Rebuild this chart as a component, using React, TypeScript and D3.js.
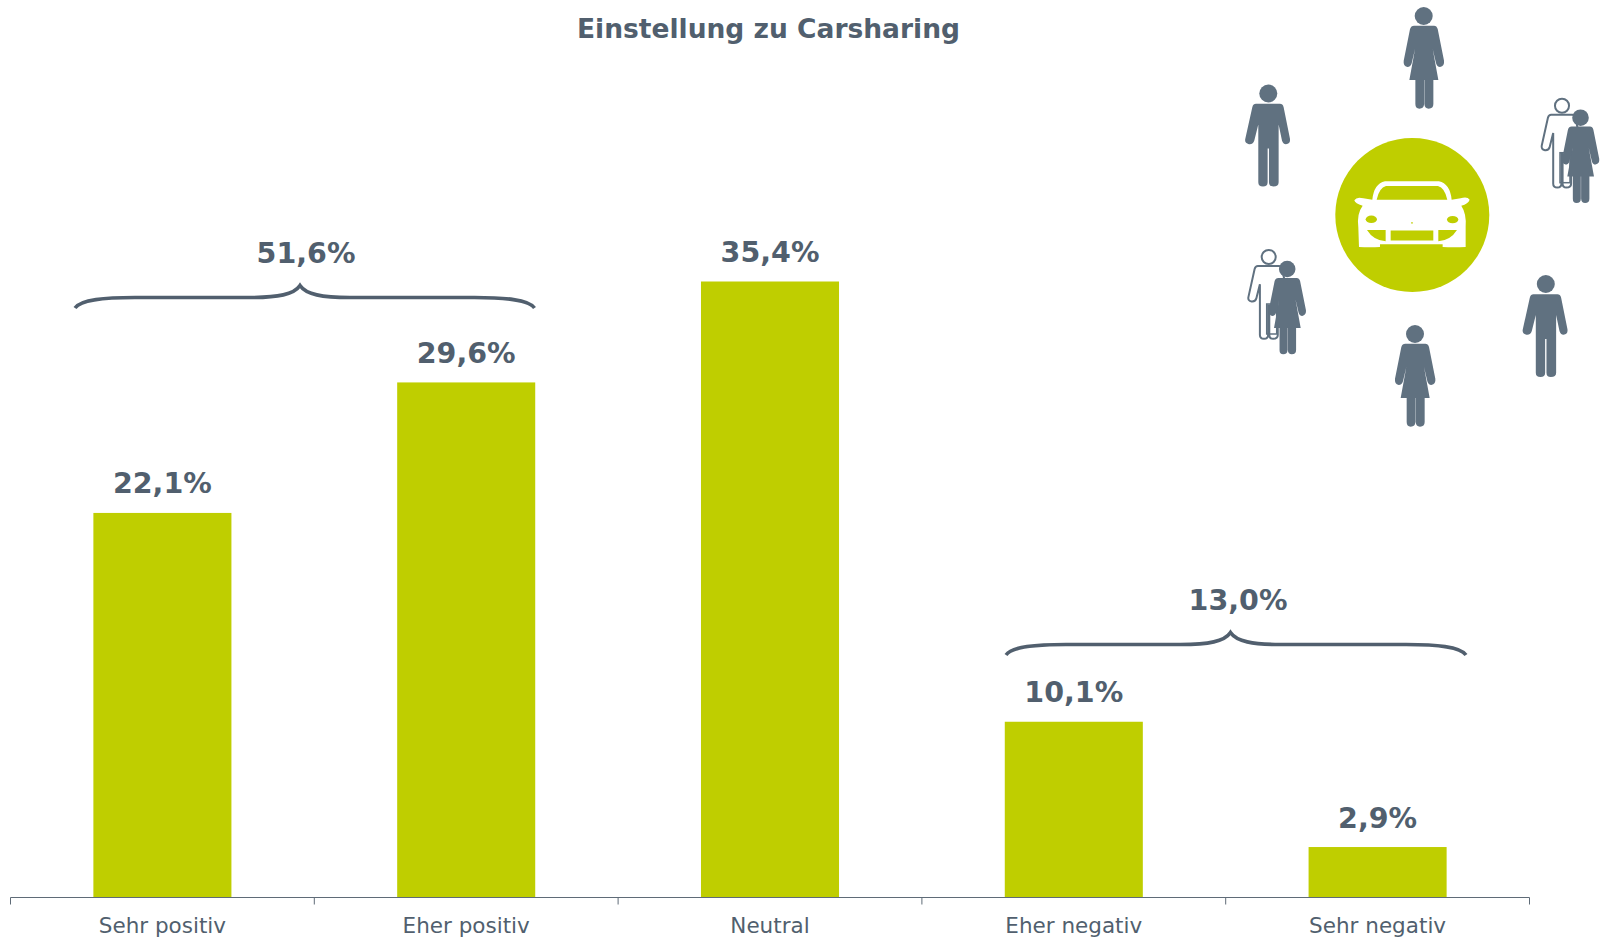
import React from "react";
import * as d3 from "d3";

const categories = ["Sehr positiv", "Eher positiv", "Neutral", "Eher negativ", "Sehr negativ"];
const values = [22.1, 29.6, 35.4, 10.1, 2.9];
const groupLabels = [51.6, 13.0];
const title = "Einstellung zu Carsharing";

const W = 1608, H = 938;
const axisY = 897.5, axisL = 10.5, axisR = 1529.5;
const TEXT = "#515f6e", ICON = "#607180", GREEN = "#bfce00", AXIS = "#5f6b77";
const FONT = "'DejaVu Sans', Verdana, sans-serif";

const x = d3.scaleBand<string>().domain(categories).range([axisL, axisR]).paddingInner(0.5456).paddingOuter(0.2728);
const y = d3.scaleLinear().domain([0, 35.4]).range([axisY, 281.5]);
const fmt = (v: number) => v.toFixed(1).replace(".", ",") + "%";

const MAN = "M108 310H180Q188 310 191 320L210 415Q212 430 198 431Q189 431 186 420L176 372V545Q176 558 160 558Q147 558 147 545V444H143V545Q143 558 129 558Q115 558 115 545V372L103 420Q100 432 87 431Q73 428 76 415L97 320Q100 310 108 310Z";
const WOMAN = "M582 75H642Q650 75 653 85L672 180Q674 196 660 199Q651 199 648 188L638 145L655 238H640V310Q640 324 626 324Q614 324 613 310V238H612V310Q612 324 598 324Q586 324 586 310V238H568L585 145L575 188Q572 199 562 199Q549 196 551 180L570 85Q573 75 582 75Z";
const CAR = "M428 226Q405 220 403 210Q410 198 430 204L457 208Q462 160 495 153H657Q690 160 695 208L722 204Q742 198 749 208Q745 220 724 226Q740 250 737 290V350Q700 352 668 350V342H480V350Q450 352 417 350L415 290Q410 250 428 226Z";
const CAR_HOLES = "M470 208Q478 172 498 167H654Q674 172 682 208ZM441 299H497V333Q460 330 441 299ZM711 299H655V333Q692 330 711 299ZM512 301H640V331H512Z";

function Man({ hx, hy, k = 1, outline = false }: { hx: number; hy: number; k?: number; outline?: boolean }) {
  const s = k / 3;
  const style = outline
    ? { fill: "#fff", stroke: ICON, strokeWidth: 6 / k }
    : { fill: ICON };
  return (
    <g transform={`translate(${hx},${hy}) scale(${s}) translate(-145,-279)`} {...style}>
      <path d={MAN} />
      <circle cx={145} cy={279} r={outline ? 24 : 27} />
    </g>
  );
}

function Woman({ hx, hy, k = 1 }: { hx: number; hy: number; k?: number }) {
  return (
    <g transform={`translate(${hx},${hy}) scale(${k / 3}) translate(-611,-46)`} fill={ICON}>
      <path d={WOMAN} />
      <circle cx={611} cy={46} r={27} />
    </g>
  );
}

function Couple({ hx, hy }: { hx: number; hy: number }) {
  return (
    <g>
      <Man hx={hx} hy={hy} k={0.88} outline />
      <rect x={hx - 2} y={hy + 47} width={10} height={30} fill="none" stroke={ICON} strokeWidth={1.5} />
      <Woman hx={hx + 18.5} hy={hy + 12} k={0.92} />
    </g>
  );
}

function Brace({ x0, x1, tip, yLine }: { x0: number; x1: number; tip: number; yLine: number }) {
  const d = d3.path();
  d.moveTo(x0, yLine + 10.5);
  d.bezierCurveTo(x0 + 6, yLine + 2, x0 + 30, yLine, x0 + 60, yLine);
  d.lineTo(tip - 50, yLine);
  d.bezierCurveTo(tip - 22, yLine, tip - 6, yLine - 3, tip, yLine - 12);
  d.bezierCurveTo(tip + 6, yLine - 3, tip + 22, yLine, tip + 50, yLine);
  d.lineTo(x1 - 60, yLine);
  d.bezierCurveTo(x1 - 30, yLine, x1 - 6, yLine + 2, x1, yLine + 10.5);
  return <path d={d.toString()} fill="none" stroke={TEXT} strokeWidth={3.6} />;
}

const braces = [
  { x0: 75, x1: 534.5, tip: 300, yLine: 297.5, labelX: 306, labelY: 262.5 },
  { x0: 1006, x1: 1466, tip: 1230.5, yLine: 644.5, labelX: 1238, labelY: 609.5 },
];

export default function App() {
  const bw = x.bandwidth();
  const ticks = [...categories.map((c) => (x(c) as number) - x.step() * x.paddingOuter()), axisR];
  return (
    <svg width={W} height={H} viewBox={`0 0 ${W} ${H}`} style={{ position: "absolute", left: 0, top: 0, display: "block" }} fontFamily={FONT}>
      <rect width={W} height={H} fill="#fff" />
      <text x={768.5} y={38} textAnchor="middle" fontSize={26.5} fontWeight={700} fill={TEXT}>{title}</text>

      {categories.map((c, i) => (
        <g key={c}>
          <rect x={x(c)} y={y(values[i])} width={bw} height={axisY - y(values[i])} fill={GREEN} />
          <text x={(x(c) as number) + bw / 2} y={y(values[i]) - 19.5} textAnchor="middle" fontSize={28.5} fontWeight={700} fill={TEXT}>
            {fmt(values[i])}
          </text>
          <text x={(x(c) as number) + bw / 2} y={932.5} textAnchor="middle" fontSize={21.5} fill={TEXT}>{c}</text>
        </g>
      ))}

      <line x1={axisL} x2={axisR} y1={axisY} y2={axisY} stroke={AXIS} strokeWidth={1} />
      {ticks.map((t, i) => (
        <line key={i} x1={t} x2={t} y1={axisY} y2={axisY + 7} stroke={AXIS} strokeWidth={1} />
      ))}

      {braces.map((b, i) => (
        <g key={i}>
          <Brace {...b} />
          <text x={b.labelX} y={b.labelY} textAnchor="middle" fontSize={28.5} fontWeight={700} fill={TEXT}>{fmt(groupLabels[i])}</text>
        </g>
      ))}

      <circle cx={1412.3} cy={215} r={77} fill={GREEN} />
      <g transform="translate(1220,130.3) scale(0.3333)">
        <path d={CAR} fill="#fff" />
        <path d={CAR_HOLES} fill={GREEN} />
        <ellipse cx={454} cy={267} rx={17} ry={11} fill={GREEN} />
        <ellipse cx={698} cy={268} rx={17} ry={11} fill={GREEN} />
        <circle cx={576} cy={278} r={2.5} fill={GREEN} />
      </g>

      <Woman hx={1423.7} hy={16} />
      <Man hx={1268.3} hy={93.5} />
      <Couple hx={1562} hy={105.7} />
      <Couple hx={1268.7} hy={257} />
      <Man hx={1545.8} hy={284} />
      <Woman hx={1415} hy={334} />
    </svg>
  );
}
